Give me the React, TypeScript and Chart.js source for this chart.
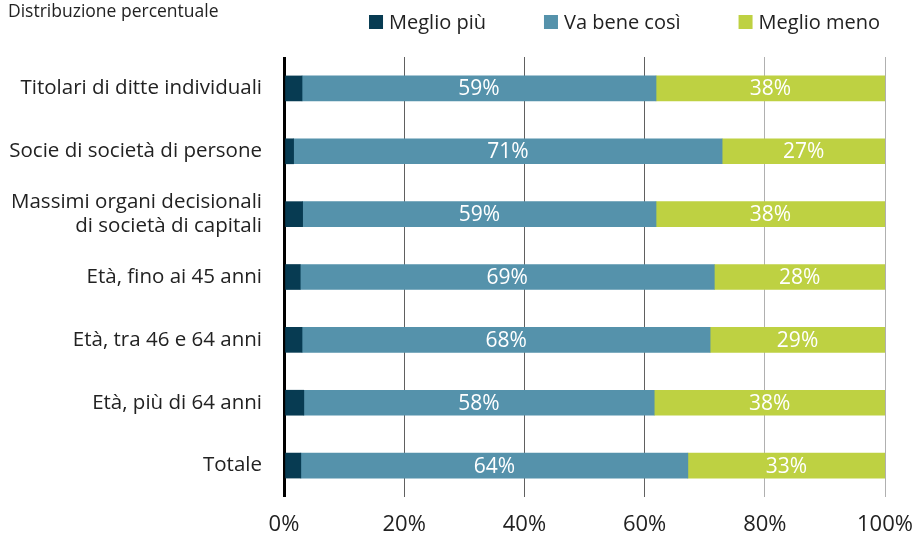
import React, { useEffect, useRef } from "react";
import { Chart, registerables } from "chart.js";

Chart.register(...registerables);

const categories: (string | string[])[] = [
  "Titolari di ditte individuali",
  "Socie di società di persone",
  ["Massimi organi decisionali", "di società di capitali"],
  "Età, fino ai 45 anni",
  "Età, tra 46 e 64 anni",
  "Età, più di 64 anni",
  "Totale",
];
const seriesNames = ["Meglio più", "Va bene così", "Meglio meno"];
const meglioPiu = [3.0, 1.6, 3.1, 2.7, 3.0, 3.3, 2.8];
const vaBeneCosi = [58.9, 71.3, 58.8, 68.9, 67.9, 58.3, 64.4];
const meglioMeno = [38.1, 27.1, 38.1, 28.4, 29.1, 38.4, 32.8];
const xTicks = [0, 20, 40, 60, 80, 100];
const subtitle = "Distribuzione percentuale";

const colors = ["#073b52", "#5592ab", "#bed142"];
const FONT = "'Open Sans'";

const labelPlugin = {
  id: "segLabels",
  afterDatasetsDraw(chart: any) {
    const ctx = chart.ctx;
    ctx.save();
    ctx.fillStyle = "#ffffff";
    ctx.font = `21px ${FONT}`;
    ctx.textAlign = "center";
    ctx.textBaseline = "middle";
    [1, 2].forEach((di) => {
      const meta = chart.getDatasetMeta(di);
      meta.data.forEach((el: any, i: number) => {
        const v = chart.data.datasets[di].data[i] as number;
        const cx = (el.x + el.base) / 2;
        ctx.fillText(Math.round(v) + "%", cx, el.y + 1);
      });
    });
    ctx.restore();
  },
};

const headerPlugin = {
  id: "headerText",
  afterDraw(chart: any) {
    const ctx = chart.ctx;
    ctx.save();
    ctx.fillStyle = "#222222";
    ctx.textBaseline = "middle";
    ctx.textAlign = "left";
    ctx.font = `17.5px ${FONT}`;
    ctx.fillText(subtitle, 8, 12);

    // legend, right-aligned
    ctx.font = `20px ${FONT}`;
    const box = 14;
    const gapText = 6;
    const gapItem = 58;
    const cy = 22;
    let right = 880;
    const ds = chart.data.datasets;
    for (let i = ds.length - 1; i >= 0; i--) {
      const label = ds[i].label as string;
      const w = ctx.measureText(label).width;
      const tx = right - w;
      const bx = tx - gapText - box;
      ctx.fillStyle = ds[i].backgroundColor as string;
      ctx.fillRect(bx, cy - box / 2, box, box);
      ctx.fillStyle = "#222222";
      ctx.fillText(label, tx, cy + 1);
      right = bx - gapItem;
    }
    ctx.restore();
  },
};

export default function App() {
  const ref = useRef<HTMLCanvasElement>(null);
  useEffect(() => {
    if (!ref.current) return;
    const chart = new Chart(ref.current, {
      type: "bar",
      data: {
        labels: categories,
        datasets: [meglioPiu, vaBeneCosi, meglioMeno].map((d, i) => ({
          label: seriesNames[i],
          data: d,
          backgroundColor: colors[i],
          borderWidth: 0,
          barThickness: 25,
        })),
      },
      options: {
        indexAxis: "y",
        animation: false,
        responsive: false,
        maintainAspectRatio: false,
        layout: { padding: { left: 0, right: 34, top: 57, bottom: 0 } },
        scales: {
          x: {
            stacked: true,
            min: 0,
            max: 100,
            afterBuildTicks: (s: any) => {
              s.ticks = xTicks.map((v) => ({ value: v }));
            },
            afterFit: (s: any) => {
              s.height = 40;
              s.paddingLeft = 0;
              s.paddingRight = 0;
            },
            ticks: {
              callback: (v: any) => v + "%",
              color: "#222222",
              font: { family: FONT, size: 22 },
              padding: 15,
            },
            grid: {
              drawTicks: false,
              color: (c: any) =>
                c.tick && c.tick.value === 0
                  ? "#000000"
                  : c.tick && c.tick.value >= 80
                  ? "#b0b0b0"
                  : "#606060",
              lineWidth: (c: any) => (c.tick && c.tick.value === 0 ? 3 : 1),
            },
            border: { display: false },
          },
          y: {
            stacked: true,
            afterFit: (s: any) => {
              s.width = 284;
              s.paddingTop = 0;
              s.paddingBottom = 0;
            },
            ticks: {
              color: "#222222",
              font: { family: FONT, size: 20.5 },
              padding: 14,
            },
            grid: { display: false },
            border: { display: false },
          },
        },
        plugins: {
          legend: { display: false },
          tooltip: { enabled: false },
        },
      },
      plugins: [labelPlugin, headerPlugin],
    });
    return () => chart.destroy();
  }, []);
  return (
    <div style={{ position: "fixed", left: 0, top: 0, width: 919, height: 537, background: "#fff" }}>
      <canvas ref={ref} width={919} height={537} style={{ display: "block" }} />
    </div>
  );
}
